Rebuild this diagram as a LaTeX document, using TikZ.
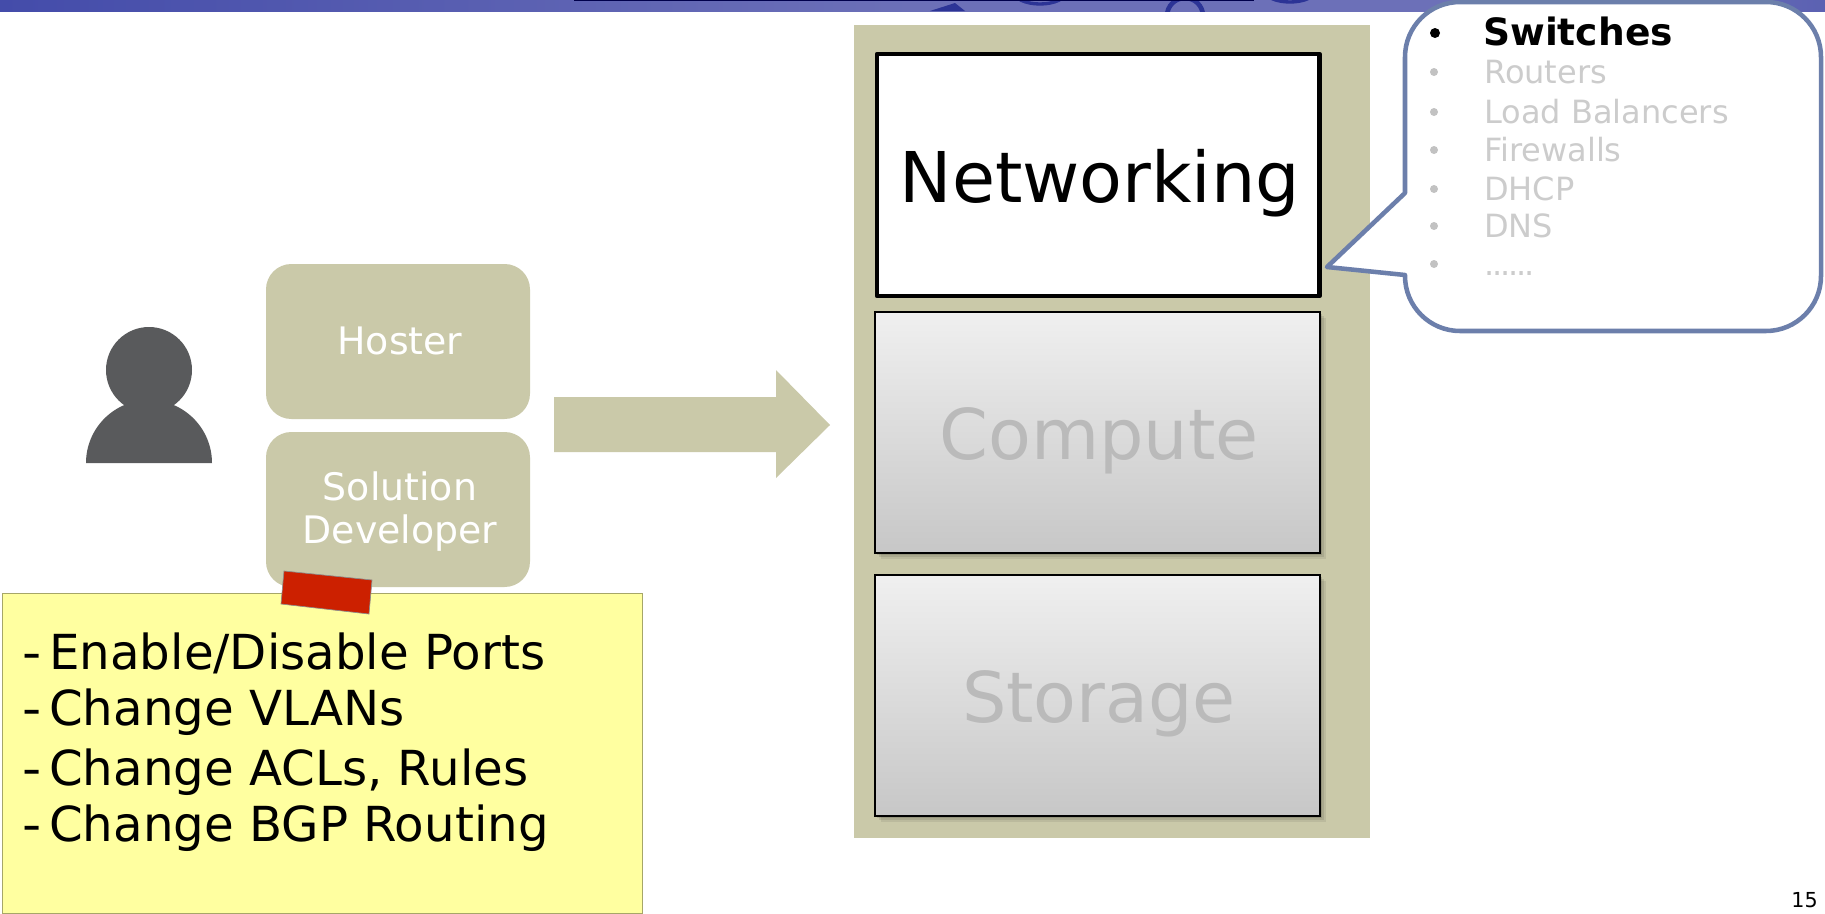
\documentclass[tikz,border=0pt]{standalone}
\usepackage{fontspec}
\setmainfont{DejaVu Sans}

\definecolor{panelkhaki}{RGB}{202,201,169}
\definecolor{bannerblue}{RGB}{68,76,170}
\definecolor{bannerpale}{RGB}{108,112,184}
\definecolor{bannerdark}{RGB}{44,52,150}
\definecolor{calloutblue}{RGB}{108,127,171}
\definecolor{stickyyellow}{RGB}{255,255,160}
\definecolor{tapered}{RGB}{204,32,0}
\definecolor{personfill}{RGB}{89,90,92}
\newcommand{\moredots}{.\kern-1.6pt.\kern-1.6pt.\kern-1.6pt.\kern-1.6pt.\kern-1.6pt.}
\pgfdeclarehorizontalshading{bannershade}{100bp}{color(0bp)=(bannerblue); color(25bp)=(bannerblue); color(50bp)=(bannerpale); color(70bp)=(bannerpale); color(82bp)=(bannerblue); color(100bp)=(bannerblue)}

\tikzset{
  panelfill/.style={fill=panelkhaki},
  rolebox/.style={fill=panelkhaki, rounded corners=19pt},
  layerbox/.style={draw=black, line width=1.2pt, top color=black!6, bottom color=black!22},
  layertext/.style={text=black!27, font=\fontsize{52.5}{52.5}\selectfont, anchor=base},
  roletext/.style={text=white, font=\fontsize{28.4}{28.4}\selectfont, anchor=base},
  listtext/.style={text=black!20, font=\fontsize{24}{24}\selectfont, anchor=base west, inner sep=0pt},
  listdot/.style={fill=black!24, circle, inner sep=0pt, minimum size=6pt},
  stickytext/.style={font=\fontsize{36.2}{36.2}\selectfont, anchor=base west, inner sep=0pt},
}

\begin{document}
\begin{tikzpicture}[x=0.75pt,y=0.75pt,yscale=-1,xscale=1]
    \useasboundingbox (0,0) rectangle (1825,914);

    %Banner
    \path [shading=bannershade] (0,0) rectangle (1825,11);
    \begin{scope}
    \clip (0,0) rectangle (1825,11);
    \draw [bannerdark, line width=2.5pt] (1040,-8) ellipse (26 and 12);
    \draw [bannerdark, line width=3.5pt] (1185,16) circle (18);
    \draw [bannerdark, line width=2.5pt] (1290,-8) ellipse (24 and 10);
    \fill [bannerdark] (930,11) -- (955,3) -- (965,11) -- cycle;
    \fill [black!70!blue] (574,0) rectangle (1254,1);
    \end{scope}

    %Person
    \fill [personfill] (86,463) arc [start angle=180, end angle=360, x radius=63, y radius=63] -- cycle;
    \fill [personfill] (149,370) circle (43);

    %Role boxes
    \path [rolebox] (266,264) rectangle (530,419);
    \path [rolebox] (266,432) rectangle (530,587);
    \node (hoster) [roletext] at (400,354) {Hoster};
    \node (solution) [roletext] at (400,500) {Solution};
    \node (developer) [roletext] at (400,543) {Developer};

    %Block arrow
    \fill [panelkhaki] (554,397) -- (776,397) -- (776,370) -- (830,425) -- (776,478) -- (776,452) -- (554,452) -- cycle;

    %Sticky note
    \draw [draw=black!35!stickyyellow, line width=0.75pt, fill=stickyyellow] (2,593) rectangle (642,913);
    \draw [draw=black!45, line width=0.5pt, fill=tapered] (284,571) -- (372,580) -- (369,614) -- (281,604) -- cycle;
    \foreach \y/\name/\lbl in {669/ports/Enable\slash Disable Ports, 725/vlans/Change VLANs, 785/acls/{Change ACLs, Rules}, 841/bgp/Change BGP Routing} {
      \node (dash\name) [stickytext] at (22,\y) {\scalebox{1.1}[1]{-}};
      \node (\name) [stickytext] at (49,\y) {\lbl};
    }

    %Panel
    \path [panelfill] (854,25) rectangle (1370,838);
    \draw [line width=3.4pt, line join=round, fill=white] (877,54) rectangle (1319.5,296);
    \foreach \t/\b in {312/553, 575/816} {
      \foreach \d/\o in {6/0.07, 4/0.09, 2/0.12} {
        \fill [black, opacity=\o] (875+\d,\t+\d) rectangle (1320+\d,\b+\d);
      }
      \path [layerbox] (875,\t) rectangle (1320,\b);
    }
    \node (networking) [anchor=base, font=\fontsize{52.5}{52.5}\selectfont] at (1100,202) {Networking};
    \node (compute) [layertext] at (1099,459) {Compute};
    \node (storage) [layertext] at (1099,722) {Storage};

    %Callout
    \draw [draw=calloutblue, line width=3.4pt, fill=white, line join=round]
      (1460,2) -- (1766,2) arc [start angle=-90, end angle=0, radius=55]
      -- (1821,276) arc [start angle=0, end angle=90, radius=55]
      -- (1460,331) arc [start angle=90, end angle=180, radius=55]
      -- (1405,275) -- (1327,267) -- (1405,193) -- (1405,57)
      arc [start angle=180, end angle=270, radius=55] -- cycle;
    \node (switchesdot) [fill=black, circle, inner sep=0pt, minimum size=7.5pt] at (1435,33) {};
    \node (switches) [listtext, text=black, font=\fontsize{28.2}{28.2}\selectfont\bfseries] at (1483,45) {Switches};
    \foreach \y/\name/\lbl in {83/routers/Routers, 123/balancers/Load Balancers, 161/firewalls/Firewalls, 200/dhcp/DHCP, 237/dns/DNS, 275/more/\moredots} {
      \node (\name) [listtext] at (1484,\y) {\lbl};
      \node (\name dot) [listdot] at (1434,\y-11) {};
    }

    %Page number
    \node (pagenum) [anchor=base east, inner sep=0pt, font=\fontsize{15.5}{15.5}\selectfont] at (1818,907) {15};
\end{tikzpicture}
\end{document}
